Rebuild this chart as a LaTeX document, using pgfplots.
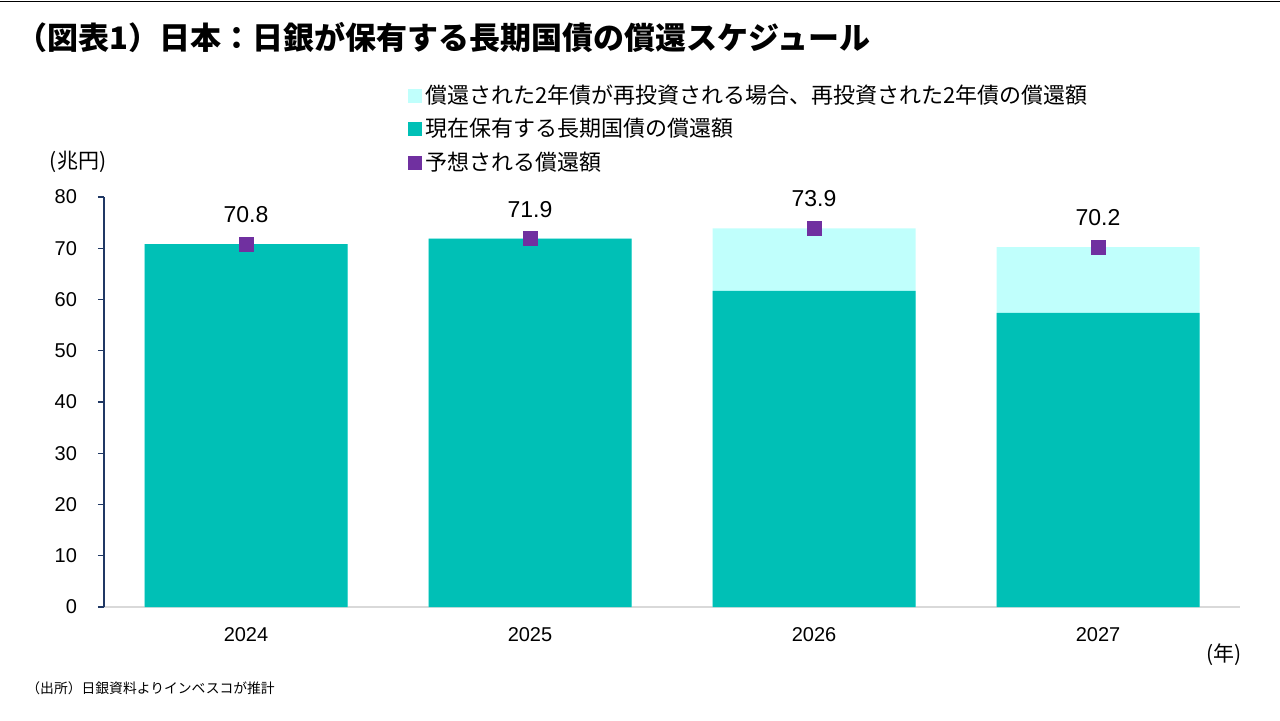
\documentclass[border=0pt]{standalone}
\usepackage{pgfplots}
\pgfplotsset{compat=1.18}
\usepackage{fontspec}
\setmainfont{Liberation Sans}
\newfontfamily\cjk{Noto Sans CJK JP}

\definecolor{lightc}{HTML}{C0FFFC}
\definecolor{tealc}{HTML}{00C0B6}
\definecolor{purplec}{HTML}{7030A0}
\definecolor{navyc}{HTML}{203864}
\definecolor{gridc}{HTML}{D9D9D9}

\begin{document}
\begin{tikzpicture}
  \useasboundingbox (0,0) rectangle (640pt,360pt);
  \draw[black, line width=0.6pt] (0,359.3pt) -- (640pt,359.3pt);
  \node[anchor=west, inner sep=0pt] at (8pt,341pt)
    {\cjk\bfseries\fontsize{15.5}{18}\selectfont （図表1）日本：日銀が保有する長期国債の償還スケジュール};

  \begin{axis}[
    at={(52pt,56.5pt)}, anchor=south west,
    scale only axis,
    width=568pt, height=205pt,
    xmin=-0.5, xmax=3.5,
    ymin=0, ymax=80,
    enlargelimits=false,
    axis x line*=bottom,
    axis y line*=left,
    x axis line style={draw=gridc, line width=1pt},
    y axis line style={draw=navyc, line width=0.6pt},
    xtick={0,1,2,3},
    xticklabels={2024,2025,2026,2027},
    xtick style={draw=none},
    ytick={0,10,...,80},
    ytick style={draw=navyc, line width=0.6pt},
    tick align=outside,
    major tick length=3pt,
    ticklabel style={font=\fontsize{10}{12}\selectfont, text=black},
    yticklabel style={xshift=-7pt},
    xticklabel style={yshift=-3.5pt},
    /pgf/number format/assume math mode=true,
    legend style={
      at={(rel axis cs:0.262,1.292)}, anchor=north west,
      draw=none, fill=none,
      font=\cjk\fontsize{11}{13}\selectfont,
      cells={anchor=west},
      nodes={inner sep=1.5pt},
      row sep=3pt,
    },
    legend cell align=left,
  ]
    \addlegendimage{legend image code/.code={\fill[lightc] (0pt,-3.3pt) rectangle (6.6pt,3.3pt);}}
    \addlegendentry{償還された2年債が再投資される場合、再投資された2年債の償還額}
    \addlegendimage{legend image code/.code={\fill[tealc] (0pt,-3.3pt) rectangle (6.6pt,3.3pt);}}
    \addlegendentry{現在保有する長期国債の償還額}
    \addlegendimage{legend image code/.code={\fill[purplec] (0pt,-3.3pt) rectangle (6.6pt,3.3pt);}}
    \addlegendentry{予想される償還額}

    % total incl. reinvested 2y bonds
    \addplot[ybar, bar width=101.5pt, bar shift=0pt, fill=lightc, draw=none, forget plot]
      coordinates {(0,70.8) (1,71.9) (2,73.9) (3,70.2)};
    % currently held JGBs
    \addplot[ybar, bar width=101.5pt, bar shift=0pt, fill=tealc, draw=none, forget plot]
      coordinates {(0,70.8) (1,71.9) (2,61.7) (3,57.4)};
    % expected redemption
    \addplot[only marks, mark=square*, mark size=3.5pt, color=purplec, forget plot,
      nodes near coords={\pgfmathprintnumber[fixed,fixed zerofill,precision=1,assume math mode=true]{\pgfplotspointmeta}},
      nodes near coords style={font=\fontsize{11.5}{13}\selectfont, text=black, anchor=south, yshift=7pt}]
      coordinates {(0,70.8) (1,71.9) (2,73.9) (3,70.2)};
  \end{axis}

  \node[anchor=center, inner sep=0pt] at (39pt,279pt) {\cjk\fontsize{10.5}{12}\selectfont (兆円)};
  \node[anchor=center, inner sep=0pt] at (612pt,32.5pt) {\cjk\fontsize{10.5}{12}\selectfont (年)};
  \node[anchor=west, inner sep=0pt] at (13pt,16pt) {\cjk\fontsize{6.9}{9}\selectfont （出所）日銀資料よりインベスコが推計};
\end{tikzpicture}
\end{document}
